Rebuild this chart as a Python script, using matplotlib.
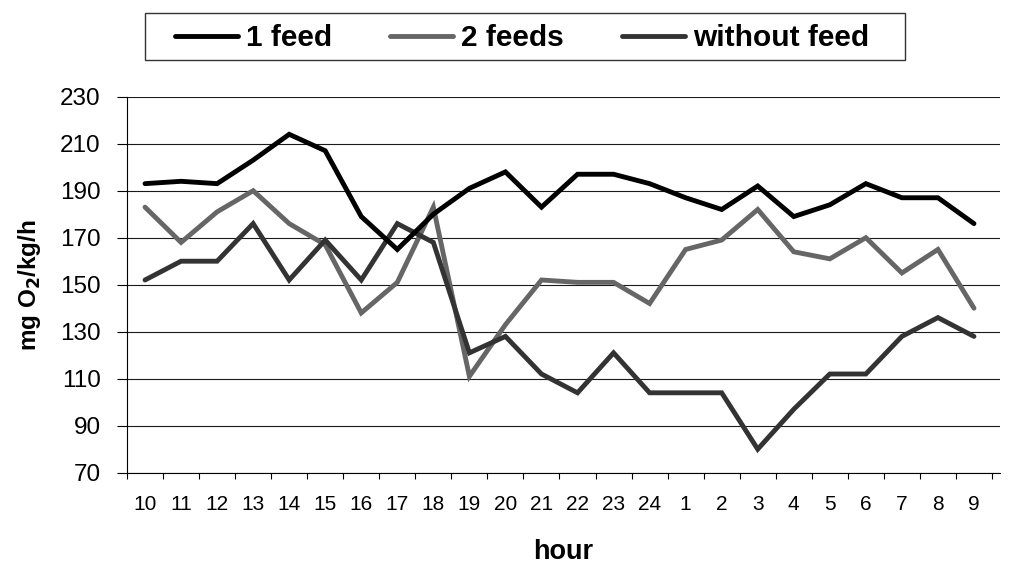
import matplotlib
matplotlib.use("Agg")
import matplotlib.pyplot as plt
from matplotlib.patches import Rectangle
import numpy as np

plt.rcParams['font.family'] = ['Liberation Sans', 'DejaVu Sans']

hours = ["10", "11", "12", "13", "14", "15", "16", "17", "18", "19", "20", "21",
         "22", "23", "24", "1", "2", "3", "4", "5", "6", "7", "8", "9"]
one_feed = [193, 194, 193, 203, 214, 207, 179, 165, 180, 191, 198, 183,
            197, 197, 193, 187, 182, 192, 179, 184, 193, 187, 187, 176]
two_feeds = [183, 168, 181, 190, 176, 167, 138, 151, 183, 111, 133, 152,
             151, 151, 142, 165, 169, 182, 164, 161, 170, 155, 165, 140]
without_feed = [152, 160, 160, 176, 152, 169, 152, 176, 168, 121, 128, 112,
                104, 121, 104, 104, 104, 80, 97, 112, 112, 128, 136, 128]
yticks = [70, 90, 110, 130, 150, 170, 190, 210, 230]

W, H = 1016, 565
fig = plt.figure(figsize=(W/100, H/100), dpi=100)
ax = fig.add_axes([127/W, 1-472.7/H, (1000-127)/W, (472.7-96.7)/H])

x = np.arange(len(hours))
kw = dict(lw=3.5, solid_capstyle='round', solid_joinstyle='miter')
l1, = ax.plot(x, one_feed, color='#000000', zorder=4, **kw)
l2, = ax.plot(x, two_feeds, color='#666666', zorder=3, **kw)
l3, = ax.plot(x, without_feed, color='#333333', zorder=3.5, **kw)

ax.set_ylim(70, 230)
ax.set_yticks(yticks)
ax.set_yticklabels([str(v) for v in yticks], fontsize=17.5)
ax.set_xlim(-0.5, 23.5 + 8/36.04)
ax.set_xticks(x)
ax.set_xticklabels(hours, fontsize=15)
ax.set_xticks(np.arange(-0.5, 24, 1), minor=True)
ax.tick_params(axis='x', which='major', length=0, pad=16)
ax.tick_params(axis='x', which='minor', length=4, width=0.8, direction='out')
ax.tick_params(axis='y', length=7, width=0.8, direction='out', pad=12)
ax.yaxis.grid(True, color='#1a1a1a', lw=0.8)
ax.set_axisbelow(True)
for s in ['top', 'right']:
    ax.spines[s].set_visible(False)
for s in ['left', 'bottom']:
    ax.spines[s].set_linewidth(0.8)

ax.set_ylabel('mg O$_\\mathbf{2}$/kg/h', fontsize=17.5, fontweight='bold', labelpad=12)
ax.set_xlabel('hour', fontsize=19.5, fontweight='bold', labelpad=18)

# legend frame drawn separately
fig.patches.append(Rectangle((145/W, 1-60/H), (905-145)/W, (60-12.7)/H,
                             transform=fig.transFigure, facecolor='white',
                             edgecolor='#333333', lw=1.0, zorder=0))
leg = fig.legend([l1, l2, l3], ['1 feed', '2 feeds', 'without feed'],
                 loc='center left', bbox_to_anchor=(175/W, 1-38.5/H),
                 ncol=3, frameon=False, borderaxespad=0, borderpad=0,
                 prop={'size': 21.5, 'weight': 'bold'}, handlelength=2.1,
                 handletextpad=0.27, columnspacing=1.95)

fig.savefig('out.png', dpi=100)
